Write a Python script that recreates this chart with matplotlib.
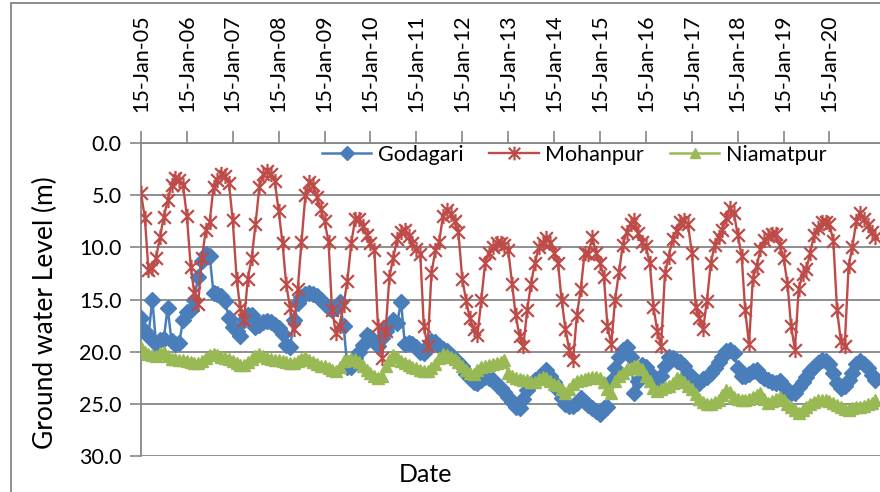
import matplotlib
matplotlib.use("Agg")
import matplotlib.pyplot as plt
import matplotlib.dates as mdates
from matplotlib.path import Path
from matplotlib.patches import Rectangle
import pandas as pd

plt.rcParams['font.family'] = ['Lato', 'DejaVu Sans']

# ---- data (monthly readings, 15-Jan-2005 .. 15-Jan-2021) ----
dates = pd.date_range('2005-01-15', periods=193, freq=pd.DateOffset(months=1))

godagari = [
    16.8, 18.0, 18.5, 15.0, 19.3, 18.9, 18.8, 15.8, 19.0, 19.3, 19.2, 17.0,
    16.2, 16.0, 15.0, 12.8, 11.3, 10.6, 10.8, 14.4, 14.5, 14.7, 15.1, 16.8,
    17.6, 18.0, 18.5, 17.0, 16.5, 16.5, 17.6, 17.4, 17.2, 17.1, 17.2, 17.4,
    17.7, 18.3, 19.4, 19.6, 17.0, 15.3, 14.8, 14.5, 14.4, 14.5, 14.7, 15.0,
    15.4, 15.8, 16.0, 15.8, 15.2, 17.5, 21.5, 21.5, 20.6, 20.0, 19.4, 18.4,
    18.6, 19.0, 19.5, 18.7, 18.0, 17.4, 17.0, 17.3, 15.2, 19.3, 19.2, 19.3,
    19.6, 20.0, 20.1, 19.5, 19.0, 19.1, 19.5, 19.7, 19.9, 20.3, 20.7, 21.0,
    21.4, 22.1, 22.5, 22.9, 23.0, 22.7, 22.4, 22.5, 22.7, 23.2, 23.5, 23.9,
    24.3, 24.8, 25.3, 25.4, 24.5, 23.7, 23.1, 22.7, 22.4, 22.1, 21.8, 22.3,
    22.9, 23.7, 24.4, 25.0, 25.2, 25.2, 24.9, 24.4, 24.8, 25.1, 25.4, 25.7,
    26.0, 25.4, 25.3, 22.8, 21.6, 20.5, 19.8, 19.6, 20.5, 24.0, 22.8, 21.3,
    21.5, 22.0, 22.4, 22.7, 22.3, 21.4, 20.5, 20.6, 20.9, 21.0, 21.4, 22.0,
    22.4, 22.8, 23.0, 22.6, 22.4, 22.0, 21.6, 21.0, 20.5, 19.9, 19.8, 20.1,
    21.6, 22.3, 22.3, 22.1, 21.9, 21.8, 22.2, 22.5, 22.7, 22.9, 23.0, 22.8,
    23.3, 23.7, 24.0, 24.0, 23.4, 22.9, 22.4, 21.9, 21.5, 21.1, 20.8, 20.9,
    21.2, 22.0, 23.0, 23.5, 23.3, 22.7, 22.0, 21.2, 20.9, 21.2, 21.6, 22.2,
    22.7,
]

mohanpur = [
    4.8, 7.2, 12.2, 12.0, 11.0, 9.0, 7.1, 5.5, 4.0, 3.4, 3.5, 4.0,
    7.0, 11.9, 14.4, 15.4, 11.0, 8.3, 7.6, 4.2, 3.5, 3.0, 3.2, 3.8,
    7.4, 13.0, 15.8, 17.0, 13.0, 11.0, 7.8, 4.2, 3.0, 2.7, 3.0, 3.6,
    6.5, 9.6, 13.5, 15.8, 17.8, 14.0, 9.5, 5.0, 3.7, 4.0, 5.2, 6.3,
    7.5, 9.5, 16.0, 18.2, 17.5, 15.5, 13.2, 9.6, 7.3, 7.3, 8.0, 8.8,
    9.6, 10.3, 17.5, 20.6, 18.0, 12.8, 11.0, 9.2, 8.5, 8.3, 8.9, 9.6,
    10.2, 10.6, 17.5, 19.5, 12.5, 10.3, 9.5, 7.0, 6.4, 6.8, 7.5, 8.5,
    13.0, 15.1, 16.8, 17.8, 18.4, 15.0, 11.5, 10.5, 10.0, 9.6, 9.6, 9.8,
    10.3, 13.5, 16.5, 18.5, 19.5, 16.0, 13.5, 11.5, 10.0, 9.6, 9.1, 9.6,
    10.5, 11.5, 15.0, 17.8, 19.8, 20.8, 16.5, 14.0, 10.5, 10.6, 9.0, 10.5,
    11.5, 12.8, 17.5, 19.3, 15.0, 12.4, 9.8, 8.5, 7.8, 7.4, 8.6, 9.5,
    9.9, 11.5, 15.7, 18.0, 19.5, 12.5, 10.9, 9.2, 8.4, 7.6, 7.4, 7.8,
    10.5, 15.7, 16.8, 17.8, 15.1, 11.5, 9.8, 9.0, 8.3, 7.2, 6.2, 6.7,
    8.8, 10.8, 16.0, 19.3, 13.0, 11.8, 10.2, 9.3, 8.9, 8.7, 8.7, 9.8,
    11.0, 13.5, 17.5, 19.8, 14.0, 12.6, 12.1, 10.5, 8.8, 8.1, 7.6, 7.6,
    7.8, 9.4, 16.0, 19.0, 19.5, 11.8, 10.0, 7.5, 6.7, 7.3, 7.9, 8.5,
    9.0,
]

niamatpur = [
    19.6, 20.0, 20.2, 20.3, 20.4, 20.1, 20.0, 20.4, 20.7, 20.7, 20.8, 20.8,
    20.9, 21.0, 21.1, 21.1, 20.9, 20.6, 20.3, 20.2, 20.3, 20.5, 20.6, 20.7,
    20.9, 21.1, 21.3, 21.3, 21.0, 20.7, 20.4, 20.2, 20.4, 20.6, 20.7, 20.8,
    20.8, 20.9, 21.0, 21.1, 21.1, 20.9, 20.7, 20.5, 20.8, 21.0, 21.2, 21.4,
    21.4, 21.6, 21.8, 21.9, 21.5, 20.9, 20.8, 20.7, 20.7, 21.0, 21.4, 21.8,
    22.0, 22.3, 22.5, 22.3, 21.4, 20.8, 20.3, 20.5, 20.9, 21.1, 21.3, 21.5,
    21.6, 21.8, 21.9, 21.9, 21.6, 21.2, 20.6, 20.2, 20.3, 20.5, 20.7, 21.0,
    21.4, 21.8, 22.0, 22.1, 21.8, 21.5, 21.4, 21.3, 21.2, 21.1, 21.0, 20.8,
    22.0, 22.3, 22.5, 22.6, 22.7, 22.7, 22.9, 22.9, 22.6, 22.4, 22.5, 22.8,
    23.1, 23.2, 23.6, 24.0, 23.6, 23.1, 22.8, 22.7, 22.6, 22.5, 22.4, 22.4,
    22.5, 22.9, 23.6, 24.0, 22.8, 22.3, 22.0, 21.7, 21.6, 21.4, 21.4, 21.7,
    22.3, 22.8, 23.5, 23.8, 23.6, 23.4, 23.3, 23.0, 22.5, 22.6, 22.9, 23.3,
    23.6, 24.1, 24.5, 24.8, 25.0, 25.0, 24.8, 24.6, 24.2, 23.7, 23.9, 24.3,
    24.5, 24.6, 24.6, 24.5, 24.3, 24.2, 24.0, 24.5, 24.9, 24.7, 24.5, 24.3,
    24.6, 25.0, 25.3, 25.6, 25.9, 25.6, 25.3, 25.0, 24.8, 24.6, 24.6, 24.6,
    24.7, 24.9, 25.1, 25.3, 25.5, 25.6, 25.4, 25.3, 25.3, 25.2, 25.0, 24.9,
    24.6,
]

series_names = ['Godagari', 'Mohanpur', 'Niamatpur']
tick_dates = pd.date_range('2005-01-15', periods=16, freq=pd.DateOffset(years=1))
y_ticks = [0, 5, 10, 15, 20, 25, 30]

# ---- styling ----
BLUE = '#4A7EBB'
RED = '#BE4B48'
GREEN = '#98B954'
GRID = '#868686'

star = Path([(-1, -1), (1, 1), (-1, 1), (1, -1), (0, -1.2), (0, 1.2)],
            [Path.MOVETO, Path.LINETO, Path.MOVETO, Path.LINETO, Path.MOVETO, Path.LINETO])

W, H = 880, 492
fig = plt.figure(figsize=(W / 100, H / 100), dpi=100)
ax = fig.add_axes([141 / W, 1 - 456 / H, (W - 141) / W, 313 / H])

ax.plot(dates, godagari, color=BLUE, lw=1.8, marker='D', ms=8,
        mfc=BLUE, mec=BLUE, label=series_names[0], zorder=3)
ax.plot(dates, mohanpur, color=RED, lw=1.7, marker=star, ms=11, mew=1.6,
        mec=RED, mfc='none', label=series_names[1], zorder=4)
ax.plot(dates, niamatpur, color=GREEN, lw=1.8, marker='^', ms=8.5,
        mfc=GREEN, mec=GREEN, label=series_names[2], zorder=5)

ax.set_ylim(30, 0)
ax.set_yticks(y_ticks)
ax.set_yticklabels([f'{v:.1f}' for v in y_ticks])

start = pd.Timestamp('2005-01-15')
ax.set_xlim(start, start + pd.Timedelta(days=int(16.1 * 365.25)))
ax.xaxis.tick_top()
ax.set_xticks(tick_dates)
ax.xaxis.set_major_formatter(mdates.DateFormatter('%d-%b-%y'))
ax.tick_params(axis='x', direction='out', length=9, width=1.2, colors='black',
               color=GRID, pad=13, labelsize=15.5, labelrotation=90)
ax.tick_params(axis='y', direction='out', length=8, width=1.2, color=GRID,
               pad=6, labelsize=15.5)

ax.yaxis.grid(True, color=GRID, lw=1.3, zorder=0)
ax.set_axisbelow(True)
for s in ['right', 'bottom']:
    ax.spines[s].set_visible(False)
for s in ['left', 'top']:
    ax.spines[s].set_color(GRID)
    ax.spines[s].set_linewidth(1.3)

ax.legend(loc='center', bbox_to_anchor=(574 / W, 1 - 155 / H),
          bbox_transform=fig.transFigure, ncol=3, frameon=False,
          fontsize=15.5, handlelength=2.3, handletextpad=0.3,
          columnspacing=1.2, markerscale=0.9)

fig.text(425 / W, 1 - 475 / H, 'Date', ha='center', va='center', size=18)
fig.text(45 / W, 1 - 313 / H, 'Ground water Level (m)', rotation=90,
         ha='center', va='center', size=19)

fig.patches.append(Rectangle((11 / W, -0.1), 1.2, (H - 3) / H + 0.1,
                             transform=fig.transFigure, fill=False,
                             ec=GRID, lw=1.3))

fig.savefig('out.png', dpi=100)
